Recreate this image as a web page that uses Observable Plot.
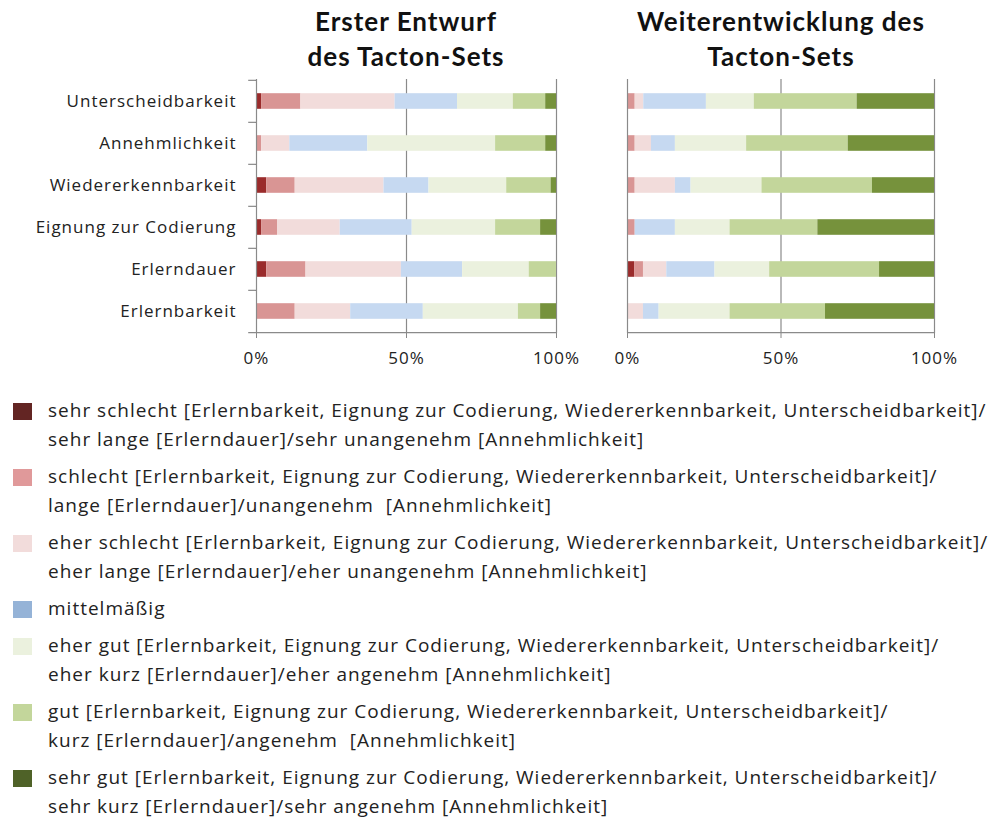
<!DOCTYPE html>
<html>
<head>
<meta charset="utf-8">
<script src="https://cdn.jsdelivr.net/npm/d3@7"></script>
<script src="https://cdn.jsdelivr.net/npm/@observablehq/plot@0.6"></script>
<style>
  html, body { margin: 0; padding: 0; background: #fff; }
  body { width: 1000px; height: 824px; position: relative; font-family: "Open Sans", Lato, sans-serif; color: #222; overflow: hidden; }
  .panel { position: absolute; top: 0; }
  .title { position: absolute; top: 4px; width: 400px; text-align: center; font-family: Lato, sans-serif; font-weight: bold; font-size: 26px; letter-spacing: 1px; line-height: 35px; color: #111; }
  #legend { position: absolute; left: 0; top: 396px; width: 1000px; }
  .item { position: relative; margin-bottom: 8px; }
  .sw { position: absolute; left: 13px; top: 7px; width: 19px; height: 17px; }
  .txt { margin-left: 48px; font-size: 19px; letter-spacing: 1px; line-height: 29px; white-space: pre; }
  svg [aria-label="x-axis tick"] path { stroke: #888; }
  svg text { letter-spacing: 1px; }
</style>
</head>
<body>
<div class="title" style="left:206px">Erster Entwurf<br>des Tacton-Sets</div>
<div class="title" style="left:581px">Weiterentwicklung des<br>Tacton-Sets</div>
<div id="left" class="panel" style="left:0px"></div>
<div id="right" class="panel" style="left:597px"></div>
<div id="legend"></div>
<script>
const items = ["Unterscheidbarkeit", "Annehmlichkeit", "Wiedererkennbarkeit", "Eignung zur Codierung", "Erlerndauer", "Erlernbarkeit"];
const levels = ["sehr schlecht", "schlecht", "eher schlecht", "mittelmäßig", "eher gut", "gut", "sehr gut"];
const barColors = ["#9a2b2b", "#d99594", "#f2dcdb", "#c6d9f1", "#ebf1de", "#c3d69b", "#76923c"];
const legendColors = ["#632523", "#e0999a", "#f2dcdb", "#95b3d7", "#ebf1de", "#c3d69b", "#4f6228"];

// percentages per item, ordered as levels (sehr schlecht ... sehr gut)
const ersterEntwurf = [
  [1.7, 13.1, 31.4, 20.8, 18.6, 10.8, 3.6],
  [0, 1.7, 9.4, 26.0, 42.6, 16.7, 3.6],
  [3.4, 9.5, 29.6, 15.0, 25.9, 14.8, 1.8],
  [1.7, 5.3, 20.9, 24.0, 27.8, 15.0, 5.3],
  [3.4, 13.1, 31.8, 20.4, 22.2, 9.1, 0],
  [0, 12.9, 18.5, 24.2, 31.7, 7.4, 5.3]
];
const weiterentwicklung = [
  [0, 2.5, 2.8, 20.4, 15.6, 33.5, 25.2],
  [0, 2.5, 5.3, 7.8, 23.2, 33.1, 28.1],
  [0, 2.5, 13.1, 5.1, 23.1, 36.0, 20.2],
  [0, 2.5, 0, 13.1, 17.8, 28.6, 38.0],
  [2.3, 2.9, 7.6, 15.7, 17.8, 35.8, 17.9],
  [0, 0, 5.2, 5.1, 23.1, 31.1, 35.5]
];
const xTicks = [0, 50, 100];
const legendTexts = [
  "sehr schlecht [Erlernbarkeit, Eignung zur Codierung, Wiedererkennbarkeit, Unterscheidbarkeit]/\nsehr lange [Erlerndauer]/sehr unangenehm [Annehmlichkeit]",
  "schlecht [Erlernbarkeit, Eignung zur Codierung, Wiedererkennbarkeit, Unterscheidbarkeit]/\nlange [Erlerndauer]/unangenehm  [Annehmlichkeit]",
  "eher schlecht [Erlernbarkeit, Eignung zur Codierung, Wiedererkennbarkeit, Unterscheidbarkeit]/\neher lange [Erlerndauer]/eher unangenehm [Annehmlichkeit]",
  "mittelmäßig",
  "eher gut [Erlernbarkeit, Eignung zur Codierung, Wiedererkennbarkeit, Unterscheidbarkeit]/\neher kurz [Erlerndauer]/eher angenehm [Annehmlichkeit]",
  "gut [Erlernbarkeit, Eignung zur Codierung, Wiedererkennbarkeit, Unterscheidbarkeit]/\nkurz [Erlerndauer]/angenehm  [Annehmlichkeit]",
  "sehr gut [Erlernbarkeit, Eignung zur Codierung, Wiedererkennbarkeit, Unterscheidbarkeit]/\nsehr kurz [Erlerndauer]/sehr angenehm [Annehmlichkeit]"
];

function tidy(matrix) {
  const out = [];
  matrix.forEach((row, i) => row.forEach((v, j) => out.push({item: items[i], level: levels[j], value: v})));
  return out;
}

const H = 380, MT = 79, MB = 47;
const step = (H - MT - MB) / items.length;

function panel(matrix, {width, marginLeft, marginRight, showY}) {
  const data = tidy(matrix);
  const marks = [
    Plot.ruleX([50, 100], {stroke: "#8a8a8a", strokeWidth: 1.2}),
    Plot.barX(data, Plot.stackX({x: "value", y: "item", fill: "level", insetTop: 13.2, insetBottom: 13.2, order: levels})),
    Plot.ruleX([0], {stroke: "#8a8a8a", strokeWidth: 1.2}),
    Plot.ruleY([items[items.length - 1]], {dy: step / 2, stroke: "#8a8a8a", strokeWidth: 1.2, x1: showY ? -2.6 : 0, x2: 100})
  ];
  if (showY) {
    marks.push(Plot.ruleY(items, {dy: -step / 2, x1: -2.6, x2: 0, stroke: "#8a8a8a", strokeWidth: 1.2}));
  }
  return Plot.plot({
    width, height: H, marginTop: MT, marginBottom: MB, marginLeft, marginRight,
    style: {fontFamily: "'Open Sans', Lato, sans-serif", fontSize: "17px", color: "#222", background: "transparent", overflow: "visible"},
    x: {domain: [0, 100], ticks: xTicks, tickFormat: d => d + "%", tickSize: 5, tickPadding: 13, label: null},
    y: {domain: items, padding: 0, label: null, tickSize: 0, tickPadding: 20, axis: showY ? "left" : null},
    color: {domain: levels, range: barColors},
    marks
  });
}

document.getElementById("left").append(panel(ersterEntwurf, {width: 580, marginLeft: 256, marginRight: 24, showY: true}));
document.getElementById("right").append(panel(weiterentwicklung, {width: 377, marginLeft: 30, marginRight: 40, showY: false}));

const legend = document.getElementById("legend");
levels.forEach((lv, i) => {
  const it = document.createElement("div");
  it.className = "item";
  const sw = document.createElement("div");
  sw.className = "sw";
  sw.style.background = legendColors[i];
  const tx = document.createElement("div");
  tx.className = "txt";
  tx.textContent = legendTexts[i];
  it.append(sw, tx);
  legend.append(it);
});
</script>
</body>
</html>
